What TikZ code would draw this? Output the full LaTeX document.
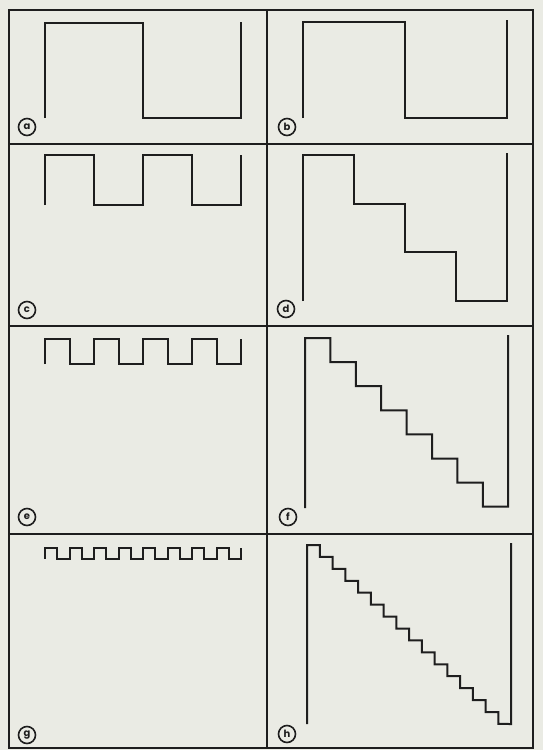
\documentclass[tikz,border=0pt]{standalone}
\usepackage{fontspec}
\newfontfamily\panelfont{Poppins}
\definecolor{paper}{RGB}{234,235,228}
\definecolor{ink}{RGB}{30,30,30}
\tikzset{
  frameline/.style={ink,line width=1.4pt},
  waveline/.style={ink,line width=2pt,line join=miter},
  panellabel/.style={circle,draw=ink,line width=1.6pt,minimum size=17pt,inner sep=0pt,
    font=\panelfont\bfseries\fontsize{10}{10}\selectfont,text=ink}
}
\begin{document}
\begin{tikzpicture}[x=1pt,y=-1pt]
		%Paper and size of the page
		\fill[paper] (0,0) rectangle (543,750);
		\useasboundingbox (0,0) rectangle (543,750);
		%Frame for the eight panels
		\draw[frameline] (9,10) rectangle (533,748);
		\draw[frameline] (267,10)--(267,748);
		\draw[frameline] (9,144)--(533,144);
		\draw[frameline] (9,326)--(533,326);
		\draw[frameline] (9,534)--(533,534);
		%Square waves, left column
		\draw[waveline] (45,118)--(45,23)--(143,23)--(143,118)--(241,118)--(241,22);
		\draw[waveline] (45,205)--(45,155) \foreach \k in {1,2}{--++(49,0)--++(0,50)--++(49,0)--++(0,-50)};
		\draw[waveline] (45,364)--(45,339) \foreach \k in {1,...,4}{--++(24.5,0)--++(0,25)--++(24.5,0)--++(0,-25)};
		\draw[waveline] (45,558.5)--(45,548) \foreach \k in {1,...,8}{--++(12.25,0)--++(0,10.5)--++(12.25,0)--++(0,-10.5)};
		%Staircases, right column
		\draw[waveline] (303,118)--(303,22)--(405,22)--(405,118)--(507,118)--(507,20);
		\draw[waveline] (303,301)--(303,155) \foreach \k in {1,2,3}{--++(51,0)--++(0,48.5)} --(507,300.5)--(507,153);
		\draw[waveline] (305,508)--(305,338) \foreach \k in {1,...,7}{--++(25.4,0)--++(0,24.1)} --(508,506.7)--(508,335);
		\draw[waveline] (307,724)--(307,545) \foreach \k in {1,...,15}{--++(12.75,0)--++(0,11.93)} --(511,724)--(511,543);
		%Panel letters
		\node[panellabel] (la) at (27,127) {a};
		\node[panellabel] (lb) at (287,127) {b};
		\node[panellabel] (lc) at (27,310) {c};
		\node[panellabel] (ld) at (286,309) {d};
		\node[panellabel] (le) at (27,517) {e};
		\node[panellabel] (lf) at (288,517) {f};
		\node[panellabel] (lg) at (27,735) {g};
		\node[panellabel] (lh) at (287,734) {h};
		\end{tikzpicture}
\end{document}
